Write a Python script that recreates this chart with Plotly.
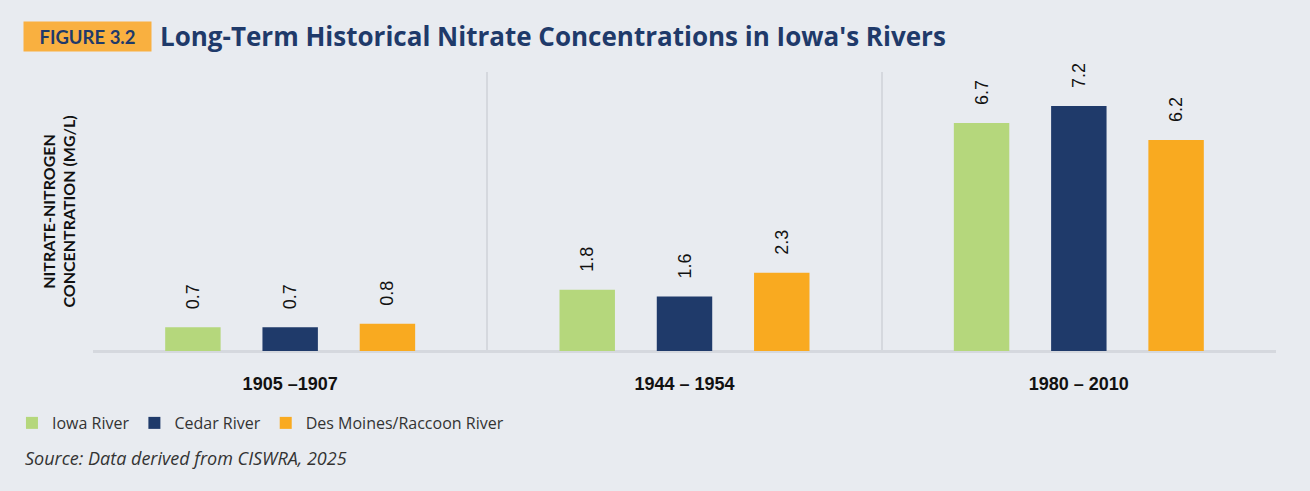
import plotly.graph_objects as go

periods = ["1905 –1907", "1944 – 1954", "1980 – 2010"]
series_names = ["Iowa River", "Cedar River", "Des Moines/Raccoon River"]
iowa = [0.7, 1.8, 6.7]
cedar = [0.7, 1.6, 7.2]
desmoines = [0.8, 2.3, 6.2]
colors = ["#b5d77c", "#1f3a6a", "#f9aa20"]

BG = "#e8ebf0"
GRID = "#d5d8de"
x_pos = list(range(len(periods)))
PAD = "\u00a0" * 3

fig = go.Figure()
for name, vals, col in zip(series_names, [iowa, cedar, desmoines], colors):
    fig.add_trace(go.Bar(
        x=x_pos, y=vals, name=name, marker=dict(color=col, line=dict(width=0)),
        text=[f"{PAD}{v:.1f}" for v in vals], textposition="outside", textangle=-90,
        textfont=dict(family="Liberation Sans, Arial", size=18, color="#111111"),
        cliponaxis=False,
    ))

fig.update_layout(
    width=1310, height=491,
    paper_bgcolor=BG, plot_bgcolor=BG,
    margin=dict(l=93, r=34, t=72, b=140),
    barmode="group", bargap=0.26, bargroupgap=0.43,
    showlegend=True,
    legend=dict(orientation="h", x=-0.0685, xref="paper", y=-0.258, yanchor="middle",
                xanchor="left", font=dict(family="Open Sans", size=16, color="#333333"),
                itemwidth=30, traceorder="normal", bgcolor="rgba(0,0,0,0)"),
    xaxis=dict(
        range=[-0.5, 2.5], tickvals=x_pos, ticktext=periods,
        tickfont=dict(family="Liberation Sans, Arial", size=18, color="#111111", weight="bold"),
        showgrid=False, zeroline=False, showline=False, ticks="",
        minor=dict(tickvals=[-0.5, 0.5, 1.5, 2.5], showgrid=True, gridcolor=GRID, gridwidth=2, ticks=""),
        ticklabelstandoff=20,
    ),
    yaxis=dict(range=[0, 8.2], showticklabels=False, showgrid=False, zeroline=True,
               zerolinecolor=GRID, zerolinewidth=3, ticks=""),
)

# Title block
fig.add_annotation(text="<b>FIGURE 3.2</b>", xref="paper", yref="paper",
                   x=-0.0592, y=1.127, xanchor="left", yanchor="middle",
                   showarrow=False,
                   font=dict(family="Lato, Open Sans", size=18.5, color="#1f3a6a"),
                   bgcolor="#f9b040", borderpad=5, width=117, height=19, align="center")
fig.add_annotation(text="<b>Long-Term Historical Nitrate Concentrations in Iowa's Rivers</b>",
                   xref="paper", yref="paper", x=0.055, y=1.13, xanchor="left",
                   yanchor="middle", showarrow=False,
                   font=dict(family="Open Sans", size=26, color="#1f3a6a"))
# Y axis title
fig.add_annotation(text="<b>NITRATE-NITROGEN<br>CONCENTRATION (MG/L)</b>",
                   xref="paper", yref="paper", x=-0.0295, y=0.5, xanchor="center",
                   yanchor="middle", textangle=-90, showarrow=False,
                   font=dict(family="Lato, Open Sans", size=16, color="#111111"))
# Source
fig.add_annotation(text="<i>Source: Data derived from CISWRA, 2025</i>",
                   xref="paper", yref="paper", x=-0.0592, y=-0.3835, xanchor="left",
                   yanchor="middle", showarrow=False,
                   font=dict(family="Open Sans", size=18, color="#333333"))

fig.write_html("out.html")
